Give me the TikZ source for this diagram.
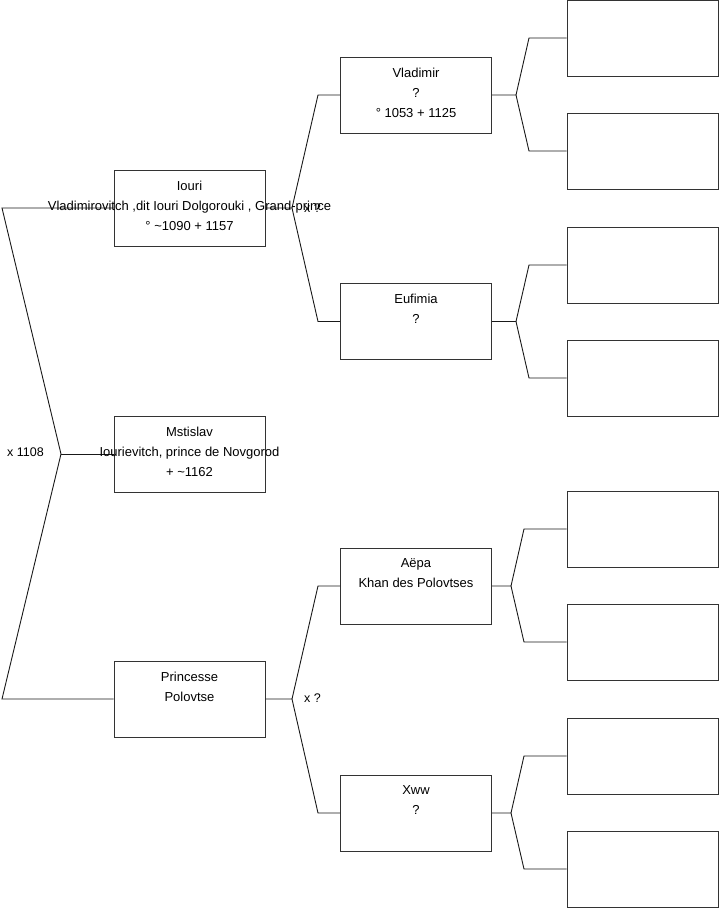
\documentclass[tikz,border=0pt]{standalone}
\usepackage{fontspec}
\setmainfont{Liberation Sans}
\begin{document}
\begin{tikzpicture}[x=1pt,y=-1pt,
  box/.style={draw=black!80,line width=1pt,minimum width=151pt,minimum height=76pt,inner sep=0pt,fill=white},
  txt/.style={anchor=north,align=center,inner sep=0pt,font=\fontsize{13}{20}\selectfont},
  lbl/.style={inner sep=0pt,font=\fontsize{12.5}{14}\selectfont},
  conn/.style={draw=black!90,line width=0.9pt}]
\useasboundingbox (0,0) rectangle (719,908);
% boxes generation 1
\node[box] (iouri) at (189.5,208) {};
\node[box] (mstislav) at (189.5,454) {};
\node[box] (princesse) at (189.5,699) {};
% generation 2
\node[box] (vladimir) at (416,95) {};
\node[box] (eufimia) at (416,321.5) {};
\node[box] (aepa) at (416,586) {};
\node[box] (xww) at (416,813) {};
% generation 3
\node[box] (e1) at (642.5,38) {};
\node[box] (e2) at (642.5,151) {};
\node[box] (e3) at (642.5,265) {};
\node[box] (e4) at (642.5,378) {};
\node[box] (e5) at (642.5,529) {};
\node[box] (e6) at (642.5,642) {};
\node[box] (e7) at (642.5,756) {};
\node[box] (e8) at (642.5,869) {};
% fork coordinates
\coordinate (l0) at (2,208);
\coordinate (lm) at (61,454);
\coordinate (l1) at (2,699);
\coordinate (fa) at (292,208);
\coordinate (fa1) at (318,95);
\coordinate (fa2) at (318,321.5);
\coordinate (fb) at (292,699);
\coordinate (fb1) at (318,586);
\coordinate (fb2) at (318,813);
\coordinate (fc) at (516,95);
\coordinate (fc1) at (529,38);
\coordinate (fc2) at (529,151);
\coordinate (fd) at (516,321.5);
\coordinate (fd1) at (529,265);
\coordinate (fd2) at (529,378);
\coordinate (fe) at (511,586);
\coordinate (fe1) at (524,529);
\coordinate (fe2) at (524,642);
\coordinate (ff) at (511,813);
\coordinate (ff1) at (524,756);
\coordinate (ff2) at (524,869);
% connectors
\draw[conn] (iouri.west) -- (l0) -- (lm) -- (l1) -- (princesse.west);
\draw[conn] (lm) -- (mstislav.west);
\draw[conn] (iouri.east) -- (fa) -- (fa1) -- (vladimir.west);
\draw[conn] (fa) -- (fa2) -- (eufimia.west);
\draw[conn] (princesse.east) -- (fb) -- (fb1) -- (aepa.west);
\draw[conn] (fb) -- (fb2) -- (xww.west);
\draw[conn] (vladimir.east) -- (fc) -- (fc1) -- (e1.west);
\draw[conn] (fc) -- (fc2) -- (e2.west);
\draw[conn] (eufimia.east) -- (fd) -- (fd1) -- (e3.west);
\draw[conn] (fd) -- (fd2) -- (e4.west);
\draw[conn] (aepa.east) -- (fe) -- (fe1) -- (e5.west);
\draw[conn] (fe) -- (fe2) -- (e6.west);
\draw[conn] (xww.east) -- (ff) -- (ff1) -- (e7.west);
\draw[conn] (ff) -- (ff2) -- (e8.west);
% texts
\node[txt] (tiouri) at ([yshift=-11pt]iouri.north) {Iouri\\Vladimirovitch ,dit Iouri Dolgorouki , Grand-prince\\° \textasciitilde1090 + 1157};
\node[txt] (tmstislav) at ([yshift=-11pt]mstislav.north) {Mstislav\\Iourievitch, prince de Novgorod\\+ \textasciitilde1162};
\node[txt] (tprincesse) at ([yshift=-11pt]princesse.north) {Princesse\\Polovtse};
\node[txt] (tvladimir) at ([yshift=-11pt]vladimir.north) {Vladimir\\?\\° 1053 + 1125};
\node[txt] (teufimia) at ([yshift=-11pt]eufimia.north) {Eufimia\\?};
\node[txt] (taepa) at ([yshift=-11pt]aepa.north) {Aëpa\\Khan des Polovtses};
\node[txt] (txww) at ([yshift=-11pt]xww.north) {Xww\\?};
% labels
\node[lbl,anchor=west] (m1) at (7,452) {x 1108};
\node[lbl,anchor=west] (m2) at (304,208) {x ?};
\node[lbl,anchor=west] (m3) at (304,698) {x ?};
\end{tikzpicture}
\end{document}
